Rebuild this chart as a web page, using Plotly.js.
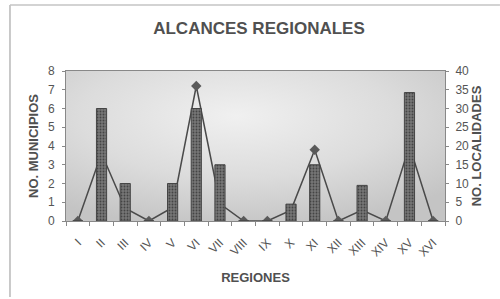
<!DOCTYPE html>
<html>
<head>
<meta charset="utf-8">
<script src="https://cdn.plot.ly/plotly-3.0.1.min.js"></script>
<style>html,body{margin:0;padding:0;background:#fff;}#chart{width:500px;height:299px;}</style>
</head>
<body>
<div id="chart"></div>
<script>
// Data
const regiones = ['I','II','III','IV','V','VI','VII','VIII','IX','X','XI','XII','XIII','XIV','XV','XVI'];
const municipios = [0, 6, 2, 0, 2, 6, 3, 0, 0, 0.9, 3, 0, 1.9, 0, 6.85, 0];
const localidades = [0, 18, 3.4, 0, 3.6, 36, 4.6, 0, 0, 2.9, 19, 0, 2.9, 0, 20, 0];
const leftTicks = [0,1,2,3,4,5,6,7,8];
const rightTicks = [0,5,10,15,20,25,30,35,40];

const bgSvg = '<svg xmlns="http://www.w3.org/2000/svg" width="380" height="150" preserveAspectRatio="none" viewBox="0 0 380 150">' +
  '<defs><radialGradient id="g" cx="0.45" cy="0.3" r="0.75">' +
  '<stop offset="0" stop-color="#f0f0f0"/><stop offset="0.55" stop-color="#dcdcdc"/><stop offset="1" stop-color="#c4c4c4"/>' +
  '</radialGradient></defs><rect width="380" height="150" fill="url(#g)"/></svg>';
const bgUri = 'data:image/svg+xml;base64,' + btoa(bgSvg);

const font = 'Liberation Sans, Arial, sans-serif';
const txt = '#555';

const traces = [
  {
    type: 'scatter', mode: 'lines+markers',
    x: regiones, y: localidades, yaxis: 'y',
    line: {color: '#4a4a4a', width: 1.5},
    marker: {symbol: 'diamond', size: 8, color: '#5a5a5a'},
    hoverinfo: 'x+y', showlegend: false
  },
  {
    type: 'bar',
    x: regiones, y: municipios, yaxis: 'y2',
    marker: {color: '#707070', line: {color: '#454545', width: 1},
      pattern: {shape: '.', fgcolor: '#444444', bgcolor: '#767676', size: 3, solidity: 0.3}},
    hoverinfo: 'x+y', showlegend: false
  }
];

const layout = {
  width: 500, height: 299,
  margin: {l: 66, r: 55, t: 71, b: 78},
  paper_bgcolor: '#ffffff',
  plot_bgcolor: 'rgba(0,0,0,0)',
  bargap: 0.57,
  font: {family: font, color: txt, size: 12},
  title: {text: 'ALCANCES REGIONALES', x: 0.518, xref: 'container', y: 0.905, yref: 'container', yanchor: 'middle',
    font: {family: font, size: 17, color: '#505050', weight: 'bold'}},
  xaxis: {
    type: 'category', range: [-0.5, 15.5],
    tickangle: -45, ticks: 'outside', ticklen: 4, tickcolor: '#888', tickson: 'boundaries',
    ticklabelstandoff: 9,
    showline: true, linecolor: '#888', linewidth: 1, mirror: true,
    showgrid: false, zeroline: false,
    tickfont: {size: 12, color: txt},
    title: {text: 'REGIONES', font: {size: 13, color: '#505050', weight: 'bold'}, standoff: 14}
  },
  yaxis: {
    side: 'right', range: [0, 40], tickvals: rightTicks,
    ticks: 'outside', ticklen: 3, tickcolor: '#888', ticklabelstandoff: 4,
    showline: true, linecolor: '#888', linewidth: 1,
    showgrid: false, zeroline: false,
    tickfont: {size: 12, color: txt},
    title: {text: 'NO. LOCALIDADES', font: {size: 13, color: '#505050', weight: 'bold'}, standoff: 1}
  },
  yaxis2: {
    side: 'left', overlaying: 'y', range: [0, 8], tickvals: leftTicks,
    ticks: 'outside', ticklen: 3, tickcolor: '#888', ticklabelstandoff: 5,
    showline: true, linecolor: '#888', linewidth: 1,
    showgrid: false, zeroline: false,
    tickfont: {size: 12, color: txt},
    title: {text: 'NO. MUNICIPIOS', font: {size: 13, color: '#505050', weight: 'bold'}, standoff: 6}
  },
  images: [{source: bgUri, xref: 'paper', yref: 'paper', x: 0, y: 1, sizex: 1, sizey: 1,
    sizing: 'stretch', xanchor: 'left', yanchor: 'top', layer: 'below'}],
  shapes: [
    {type: 'line', xref: 'paper', yref: 'paper', x0: -0.1478, x1: -0.1478, y0: 1.44, y1: -0.507,
      line: {color: '#b8b8b8', width: 1.5}},
    {type: 'line', xref: 'paper', yref: 'paper', x0: -0.1478, x1: 1.145, y0: 1.44, y1: 1.44,
      line: {color: '#c4c4c4', width: 1.5}}
  ]
};

Plotly.newPlot('chart', traces, layout, {displayModeBar: false, staticPlot: true});
</script>
</body>
</html>
